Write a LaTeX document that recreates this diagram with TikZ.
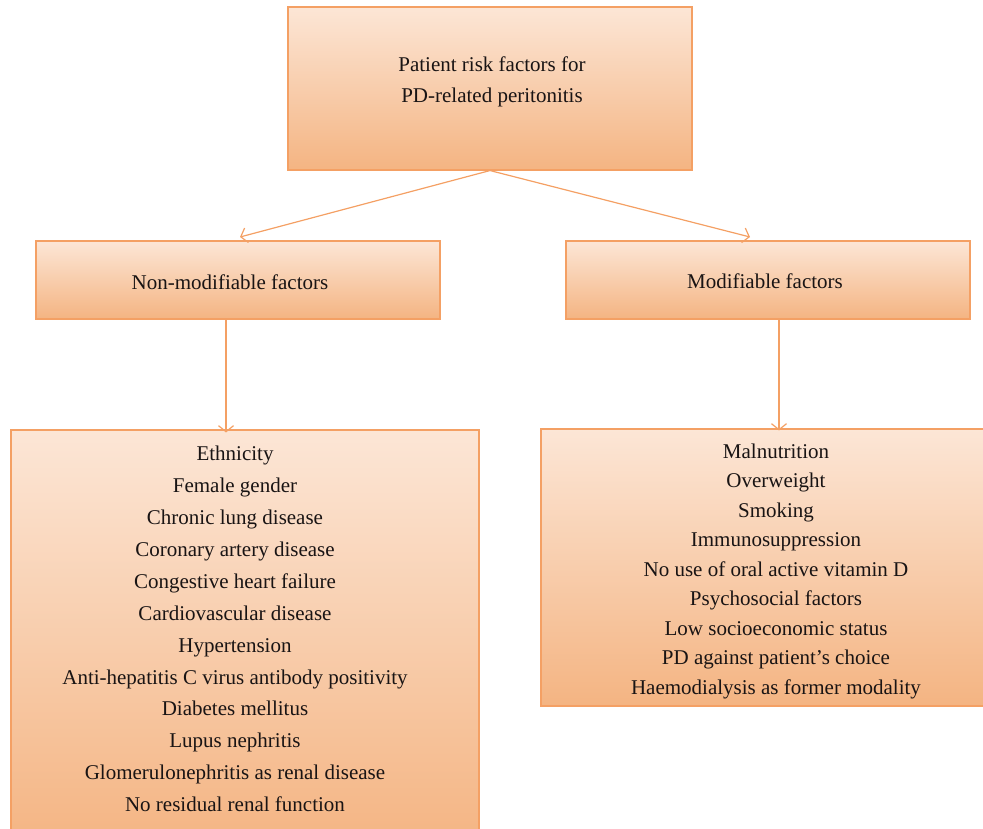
\documentclass[tikz,border=0pt]{standalone}
\usepackage{fontspec}
\setmainfont{Liberation Serif}
\usetikzlibrary{arrows.meta}
\definecolor{edgeor}{RGB}{244,160,100}
\definecolor{topfill}{RGB}{252,230,214}
\definecolor{botfill}{RGB}{244,180,130}
\definecolor{txt}{RGB}{25,20,20}
\tikzset{
  box/.style={draw=edgeor, line width=1.1pt, top color=topfill, bottom color=botfill, inner sep=0pt},
  lbl/.style={text=txt, align=center, inner sep=0pt, font=\fontsize{21}{31}\selectfont},
  arr/.style={draw=edgeor, line width=1.2pt, -{Straight Barb[length=6pt,width=15pt]}}
}
\begin{document}
\begin{tikzpicture}[x=1pt,y=-1pt]
\useasboundingbox (0,0) rectangle (983,828);
\begin{scope}
\clip (0,0) rectangle (983,828);
\node[box, minimum width=404pt, minimum height=163pt] (top) at (490,88.5) {};
\node[box, minimum width=404pt, minimum height=78pt] (nonmod) at (238,280) {};
\node[box, minimum width=404pt, minimum height=78pt] (mod) at (768,280) {};
\node[box, minimum width=468pt, minimum height=420pt] (leftlist) at (245,640) {};
\node[box, minimum width=460pt, minimum height=277pt] (rightlist) at (771,567.5) {};
\end{scope}
\node[lbl] (toptext) at (492,82) {Patient risk factors for\\PD-related peritonitis};
\node[lbl] (nonmodtext) at (230,282) {Non-modifiable factors};
\node[lbl] (modtext) at (765,281) {Modifiable factors};
\node[lbl, font=\fontsize{21}{31.9}\selectfont] (lefttext) at (235,629) {Ethnicity\\Female gender\\Chronic lung disease\\Coronary artery disease\\Congestive heart failure\\Cardiovascular disease\\Hypertension\\Anti-hepatitis C virus antibody positivity\\Diabetes mellitus\\Lupus nephritis\\Glomerulonephritis as renal disease\\No residual renal function};
\node[lbl, font=\fontsize{21}{29.5}\selectfont] (righttext) at (776,571) {Malnutrition\\Overweight\\Smoking\\Immunosuppression\\No use of oral active vitamin D\\Psychosocial factors\\Low socioeconomic status\\PD against patient’s choice\\Haemodialysis as former modality};
\coordinate (la) at (226,0);
\coordinate (ra) at (779,0);
\coordinate (lt) at (240,237);
\coordinate (rt) at (750,237);
\draw[arr] (top.south) -- (lt);
\draw[arr] (top.south) -- (rt);
\draw[arr] (nonmod.south -| la) -- ([yshift=-3pt]leftlist.north -| la);
\draw[arr] (mod.south -| ra) -- ([yshift=-2pt]rightlist.north -| ra);
\end{tikzpicture}
\end{document}
